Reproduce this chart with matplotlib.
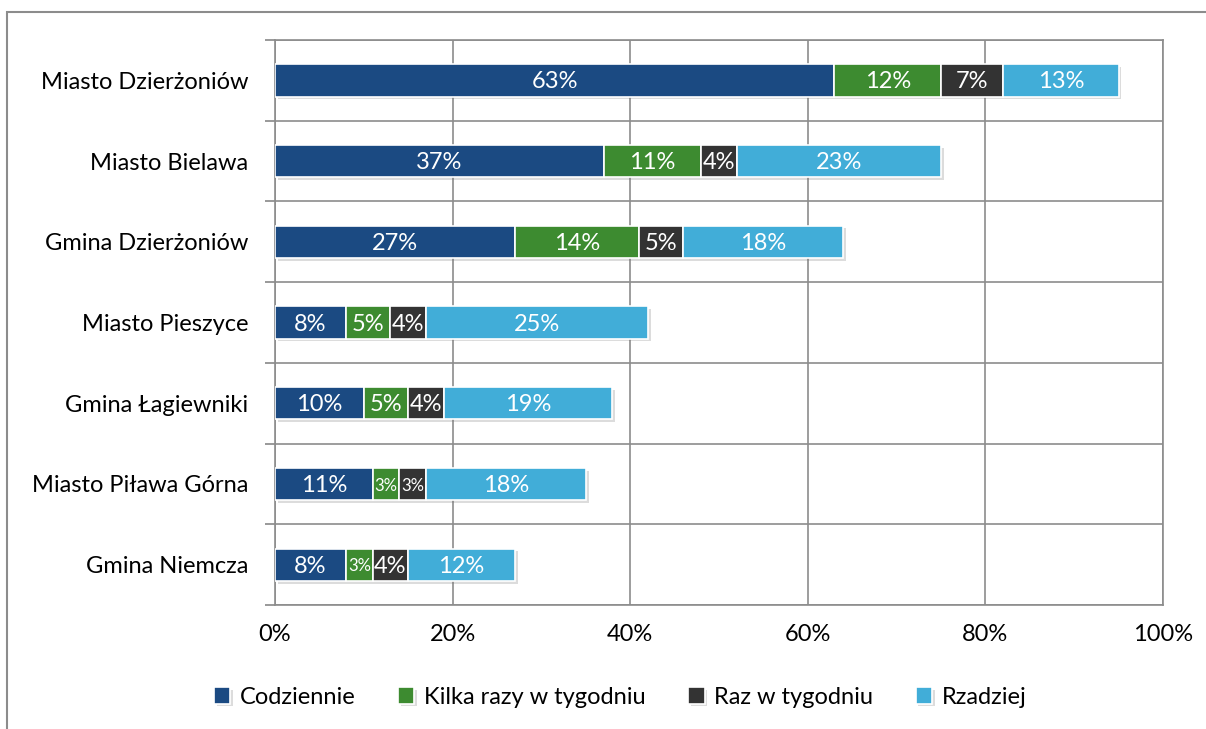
import numpy as np
import matplotlib.pyplot as plt
import matplotlib.patheffects as pe
from matplotlib.patches import Rectangle

plt.rcParams['font.family'] = ['Lato', 'DejaVu Sans']

categories = ['Miasto Dzierżoniów', 'Miasto Bielawa', 'Gmina Dzierżoniów',
              'Miasto Pieszyce', 'Gmina Łagiewniki', 'Miasto Piława Górna',
              'Gmina Niemcza']
series = ['Codziennie', 'Kilka razy w tygodniu', 'Raz w tygodniu', 'Rzadziej']
codziennie = [63, 37, 27, 8, 10, 11, 8]
kilka_razy = [12, 11, 14, 5, 5, 3, 3]
raz_w_tyg = [7, 4, 5, 4, 4, 3, 4]
rzadziej = [13, 23, 18, 25, 19, 18, 12]
colors = ['#1B4A82', '#3D8B30', '#333333', '#41ADD8']

values = [codziennie, kilka_razy, raz_w_tyg, rzadziej]

fig = plt.figure(figsize=(12.06, 7.29), dpi=100)
ax = fig.add_axes([275/1206, 1 - 605/729, (1163 - 275)/1206, (605 - 40)/729])

# outer frame (cut off at the right and bottom)
fig.patches.append(Rectangle((7/1206, -0.05), 1.2, 1 - 12/729 + 0.05,
                             transform=fig.transFigure, fill=False,
                             edgecolor='#8c8c8c', lw=1.5, zorder=0))

y = np.arange(len(categories))
left = np.zeros(len(categories))
shadow = [pe.SimplePatchShadow(offset=(2, -2), alpha=0.25, shadow_rgbFace='#777777'), pe.Normal()]
for vals, name, col in zip(values, series, colors):
    vals = np.array(vals, dtype=float)
    bars = ax.barh(y, vals, left=left, height=0.4, color=col, edgecolor='white',
                   linewidth=1.2, label=name, zorder=3)
    for b in bars:
        b.set_path_effects(shadow)
    for yi, l, v in zip(y, left, vals):
        fs = 12 if v <= 3 else 17
        ax.text(l + v / 2, yi + 0.02, f'{int(v)}%', ha='center', va='center',
                color='white', fontsize=fs, zorder=4)
    left += vals

ax.set_xlim(0, 100)
ax.set_ylim(len(categories) - 0.5, -0.5)
ax.set_xticks(np.arange(0, 101, 20))
ax.set_xticklabels([f'{t}%' for t in range(0, 101, 20)], fontsize=17)
ax.set_yticks(y)
ax.set_yticklabels(categories, fontsize=17)
ax.set_yticks(np.arange(-0.5, len(categories), 1), minor=True)
ax.tick_params(axis='y', which='major', length=0, pad=19)
ax.tick_params(axis='y', which='minor', length=7, color='#888888', width=1.2)
ax.tick_params(axis='x', length=0, pad=14)

ax.grid(axis='x', which='major', color='#8c8c8c', lw=1.2, zorder=0)
ax.grid(axis='y', which='minor', color='#8c8c8c', lw=1.2, zorder=0)
for s in ax.spines.values():
    s.set_color('#8c8c8c')
    s.set_linewidth(1.2)

handles, labels = ax.get_legend_handles_labels()
fig.legend(handles, labels, loc='center', bbox_to_anchor=(620/1206, 1 - 697/729),
           ncol=4, frameon=False, fontsize=17, handlelength=0.7, handleheight=0.7,
           handletextpad=0.4, columnspacing=1.8)

fig.savefig('out.png', dpi=100)
